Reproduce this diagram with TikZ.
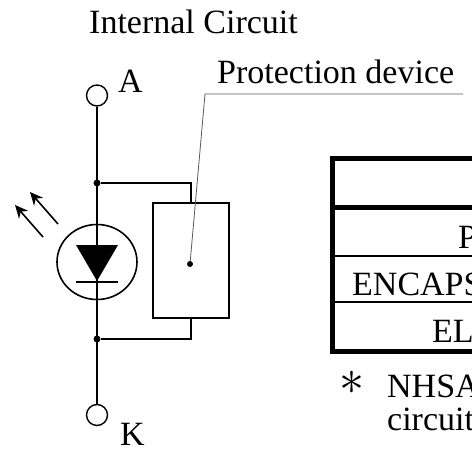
\documentclass[tikz,border=0pt]{standalone}
\usepackage{graphicx}
\usepackage{fontspec}
\setmainfont{Liberation Serif}
\usetikzlibrary{arrows.meta,shapes.geometric}
\tikzset{
  wire/.style={line width=1.6pt},
  terminal/.style={circle, draw, line width=1.4pt, minimum size=21pt, inner sep=0pt},
  junction/.style={circle, fill, minimum size=7pt, inner sep=0pt},
  lbl/.style={anchor=base west, inner sep=0pt, font=\fontsize{34}{38}\selectfont},
  tabline/.style={line width=1.8pt},
  tabframe/.style={line width=5pt},
  light/.style={wire, -{Stealth[length=13pt,width=12pt]}}
}
\begin{document}
\begin{tikzpicture}[x=1pt,y=-1pt]
	\clip (0,0) rectangle (472,453);
	% titles
	\node[lbl] (title) at (89,33) {Internal Circuit};
	\node[lbl] (ptext) at (217,83) {Protection device};
	% terminals
	\node[terminal] (A) at (97,95.5) {};
	\node[terminal] (K) at (97,415) {};
	\node[lbl] (Alabel) at (118,92) {A};
	\node[lbl] (Klabel) at (120,445) {K};
	\node[junction] (jtop) at (97,183) {};
	\node[junction] (jbot) at (97,339) {};
	\draw[wire] (A) -- (K);
	% LED
	\node[ellipse, draw, wire, minimum width=80pt, minimum height=75pt, inner sep=0pt] (led) at (97,262) {};
	\fill (76,245) -- (118,245) -- (97,281) -- cycle;
	\draw[wire] (76,282) -- (118,282);
	\coordinate (a1s) at (43,237);
	\coordinate (a1e) at (15,205);
	\coordinate (a2s) at (58,224);
	\coordinate (a2e) at (30,192);
	\draw[light] (a1s) -- (a1e);
	\draw[light] (a2s) -- (a2e);
	% protection device
	\node[draw, wire, minimum width=76pt, minimum height=115pt, inner sep=0pt] (prot) at (191,260.5) {};
	\draw[wire] (jtop) -| (prot.north);
	\draw[wire] (jbot) -| (prot.south);
	\node[junction, minimum size=6pt] (pdot) at (190,264) {};
	\coordinate (bend) at (205,94);
	\coordinate (lend) at (463,94);
	\draw[gray!70!black, line width=0.8pt] (pdot) -- (bend) -- (lend);
	% table
	\draw[tabframe] (480,158) -- (332.5,158) -- (332.5,351) -- (480,351);
	\draw[tabframe] (332.5,207) -- (480,207);
	\draw[tabline] (332.5,256) -- (480,256);
	\draw[tabline] (332.5,302) -- (480,302);
	\node[lbl] (r1) at (458,248) {P};
	\node[lbl] (r2) at (352,295) {ENCAPS};
	\node[lbl] (r3) at (432,342) {ELI};
	% note
	\node[anchor=center, inner sep=0pt] (star) at (352,383) {\scalebox{5}{$\ast$}};
	\node[lbl] (n1) at (387,397) {NHSA};
	\node[lbl] (n2) at (387,430) {circuit};
\end{tikzpicture}
\end{document}
